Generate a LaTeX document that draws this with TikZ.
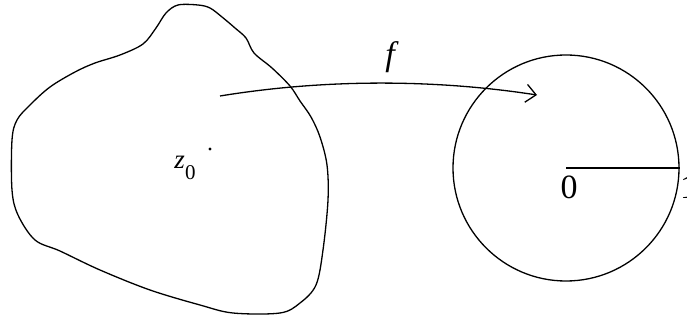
\documentclass[tikz,border=0pt]{standalone}
\usepackage{fontspec}
\setmainfont{Liberation Serif}
\usetikzlibrary{arrows.meta}
\begin{document}
\begin{tikzpicture}[x=1pt,y=-1pt,
  outline/.style={line width=1.3pt,black},
  lbl/.style={inner sep=0pt,font=\fontsize{34}{36}\selectfont}]
\useasboundingbox (0,0) rectangle (687,320);
% region (blob)
\draw[outline] plot[smooth cycle,tension=0.55] coordinates {
 (178,5) (198,5) (210,8) (222,17) (235,28) (246,38) (254,53) (272,68) (290,86)
 (300,101) (311,117) (320,137) (327,165) (328,200) (323,250) (316,285)
 (300,303) (280,313) (233,313) (200,305) (150,290) (100,270) (60,251)
 (35,240) (18,215) (12,190) (12,140) (17,120) (30,105) (50,87) (75,72)
 (95,63) (120,55) (143,44) (156,28) (166,13)};
% point z0
\fill (210,149) circle (1.7pt);
\node[inner sep=0pt] (z0) at (185,168) {\fontsize{27}{30}\selectfont\itshape z\/\raisebox{-11pt}{\fontsize{21}{24}\selectfont\upshape 0}};
% unit disk
\node[outline,draw,circle,minimum size=226pt,inner sep=0pt] (disk) at (566,168) {};
\draw[outline] (disk.center) -- (disk.east);
\node[lbl] (zero) at (569,187) {0};
\node[lbl,anchor=west] (one) at (680,187) {1};
% map f
\coordinate (fs) at (220,96);
\coordinate (fe) at (537,95);
\draw[outline,-{Straight Barb[length=10pt,width=18pt]}] (fs) .. controls (330,78) and (440,80) .. (fe);
\node[lbl,font=\fontsize{34}{36}\selectfont\itshape] (f) at (390,57) {f};
\end{tikzpicture}
\end{document}
